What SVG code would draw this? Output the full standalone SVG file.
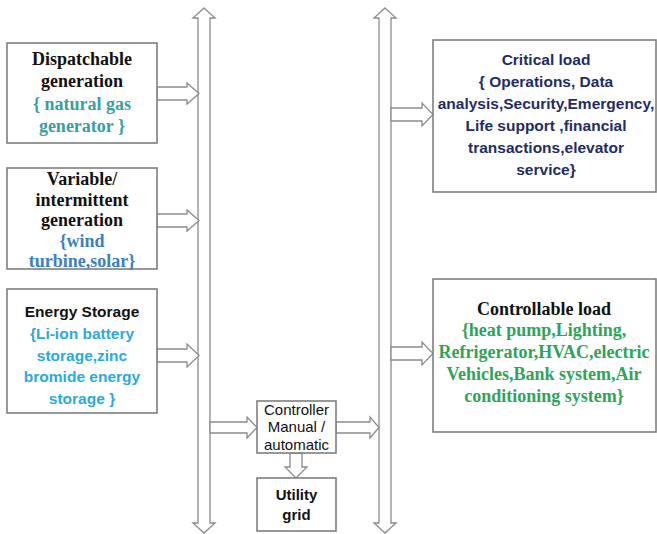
<svg xmlns="http://www.w3.org/2000/svg" width="657" height="534" viewBox="0 0 657 534">
<style>
.box{fill:#fff;stroke:#7f7f7f;stroke-width:1.6}
.arr{fill:#fff;stroke:#8c8c8c;stroke-width:1.3;stroke-linejoin:miter}
.serif{font-family:"Liberation Serif","Times New Roman",serif;font-weight:bold;font-size:18px;text-anchor:middle}
.sans{font-family:"Liberation Sans",Arial,sans-serif;font-weight:bold;font-size:15.5px;text-anchor:middle}
.ctl{font-family:"Liberation Sans",Arial,sans-serif;font-size:15px;text-anchor:middle;fill:#111}
.k{fill:#111}
.teal{fill:#36a0a3}
.blue{fill:#3a80c2}
.sky{fill:#2aaade}
.navy{fill:#1f2c66}
.green{fill:#2ea45a}
</style>
<rect width="657" height="534" fill="#fff"/>
<g id="connectors">
<path class="arr" d="M204,8 L215,18 L210,18 L210,523 L215,523 L204,533 L193,523 L198,523 L198,18 L193,18 Z"/>
<path class="arr" d="M385,8 L396,18 L391,18 L391,523 L396,523 L385,533 L374,523 L379,523 L379,18 L374,18 Z"/>
<path class="arr" d="M157,87 L187,87 L187,83 L199,93.5 L187,104 L187,100 L157,100 Z"/>
<path class="arr" d="M157,214 L187,214 L187,210 L199,220.5 L187,231 L187,227 L157,227 Z"/>
<path class="arr" d="M157,349 L187,349 L187,344 L199,355.5 L187,367 L187,362 L157,362 Z"/>
<path class="arr" d="M391,108 L422,108 L422,103 L433,114.5 L422,126 L422,121 L391,121 Z"/>
<path class="arr" d="M391,347 L422,347 L422,342 L433,353.5 L422,365 L422,360 L391,360 Z"/>
<path class="arr" d="M210,422 L247,422 L247,417 L257,427.5 L247,438 L247,433 L210,433 Z"/>
<path class="arr" d="M336,422 L370,422 L370,417 L379,427.5 L370,438 L370,433 L336,433 Z"/>
<path class="arr" d="M290,453 L302,453 L302,467 L307,467 L296,478 L285,467 L290,467 Z"/>
</g>
<g id="dispatchable">
<rect class="box" x="7" y="43" width="150" height="100"/>
<text class="serif k" x="82" y="65">Dispatchable</text>
<text class="serif k" x="82" y="87">generation</text>
<text class="serif teal" x="82" y="110">{ natural gas</text>
<text class="serif teal" x="82" y="132">generator }</text>
</g>
<g id="variable">
<rect class="box" x="7" y="168" width="150" height="101"/>
<text class="serif k" x="82" y="185">Variable/</text>
<text class="serif k" x="82" y="206">intermittent</text>
<text class="serif k" x="82" y="226">generation</text>
<text class="serif blue" x="82" y="247">{wind</text>
<text class="serif blue" x="82" y="267">turbine,solar}</text>
</g>
<g id="storage">
<rect class="box" x="7" y="289" width="150" height="124"/>
<text class="sans k" x="82" y="317">Energy Storage</text>
<text class="sans sky" x="82" y="339">{Li-ion battery</text>
<text class="sans sky" x="82" y="361">storage,zinc</text>
<text class="sans sky" x="82" y="382">bromide energy</text>
<text class="sans sky" x="82" y="404">storage }</text>
</g>
<g id="critical">
<rect class="box" x="433" y="40" width="223" height="152"/>
<text class="sans navy" x="546" y="65">Critical load</text>
<text class="sans navy" x="546" y="87">{ Operations, Data</text>
<text class="sans navy" x="546" y="109">analysis,Security,Emergency,</text>
<text class="sans navy" x="546" y="131">Life support ,financial</text>
<text class="sans navy" x="546" y="153">transactions,elevator</text>
<text class="sans navy" x="546" y="175">service}</text>
</g>
<g id="controllable">
<rect class="box" x="433" y="279" width="223" height="153"/>
<text class="serif k" x="544" y="315">Controllable load</text>
<text class="serif green" x="544" y="336">{heat pump,Lighting,</text>
<text class="serif green" x="544" y="358">Refrigerator,HVAC,electric</text>
<text class="serif green" x="544" y="380">Vehicles,Bank system,Air</text>
<text class="serif green" x="544" y="402">conditioning system}</text>
</g>
<g id="controller">
<rect class="box" x="257" y="401" width="79" height="52"/>
<text class="ctl" x="296.5" y="415">Controller</text>
<text class="ctl" x="296.5" y="432">Manual /</text>
<text class="ctl" x="296.5" y="450">automatic</text>
</g>
<g id="utility">
<rect class="box" x="257" y="478" width="79" height="53"/>
<text class="ctl" x="296.5" y="500" font-weight="bold">Utility</text>
<text class="ctl" x="296.5" y="520" font-weight="bold">grid</text>
</g>
</svg>
